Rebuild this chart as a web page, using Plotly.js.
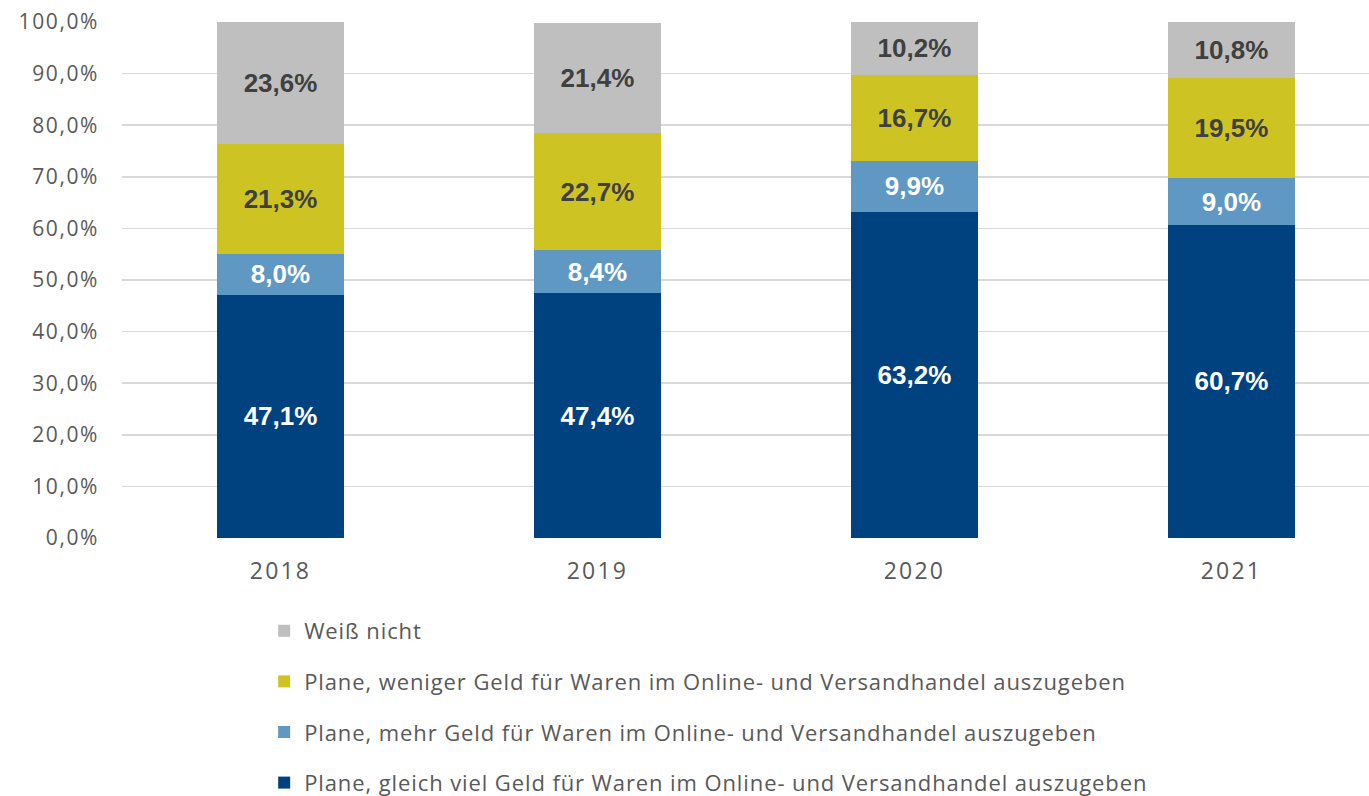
<!DOCTYPE html>
<html>
<head>
<meta charset="utf-8">
<script src="https://cdn.plot.ly/plotly-3.0.1.min.js"></script>
<style>
html,body{margin:0;padding:0;background:#fff;}
#chart{width:1369px;height:796px;}
#chart .legendtext{letter-spacing:0.9px;}
#chart .legend .scrollbox{clip-path:none !important;}
#chart .ytick text{letter-spacing:1.6px;}
#chart .xtick text{letter-spacing:2.2px;}
</style>
</head>
<body>
<div id="chart"></div>
<script>
const years = ['2018', '2019', '2020', '2021'];
const gleich = [47.1, 47.4, 63.2, 60.7];
const mehr = [8.0, 8.4, 9.9, 9.0];
const weniger = [21.3, 22.7, 16.7, 19.5];
const weissNicht = [23.6, 21.4, 10.2, 10.8];
const seriesNames = [
  'Plane, gleich viel Geld für Waren im Online- und Versandhandel auszugeben',
  'Plane, mehr Geld für Waren im Online- und Versandhandel auszugeben',
  'Plane, weniger Geld für Waren im Online- und Versandhandel auszugeben',
  'Weiß nicht'
];
const yTicks = [0, 10, 20, 30, 40, 50, 60, 70, 80, 90, 100];

const fmt = v => v.toFixed(1).replace('.', ',') + '%';
const colors = ['#00417F', '#5F98C2', '#CDC424', '#BFBFBF'];
const textColors = ['#FFFFFF', '#FFFFFF', '#404040', '#404040'];
const allSeries = [gleich, mehr, weniger, weissNicht];

const traces = allSeries.map((vals, i) => ({
  type: 'bar',
  x: years,
  y: vals,
  name: seriesNames[i],
  legendgroup: 'g' + i,
  legendrank: 4 - i,
  marker: {color: colors[i], line: {width: 0}},
  text: vals.map(fmt),
  textposition: 'inside',
  insidetextanchor: 'middle',
  textangle: 0,
  constraintext: 'none',
  textfont: {family: 'Liberation Sans, Arial, sans-serif', size: 26, color: textColors[i], weight: 'bold'},
  hoverinfo: 'skip'
}));

const layout = {
  width: 1369,
  height: 796,
  margin: {l: 122, r: 0, t: 22, b: 258},
  barmode: 'stack',
  bargap: 0.6,
  separators: ',.',
  paper_bgcolor: '#FFFFFF',
  plot_bgcolor: '#FFFFFF',
  font: {family: 'Open Sans, sans-serif', color: '#595959', size: 20},
  xaxis: {
    type: 'category',
    range: [-0.5, 3.434],
    showgrid: false,
    zeroline: false,
    showline: false,
    ticks: '',
    tickfont: {size: 23, color: '#595959'},
    ticklabelstandoff: 17,
    automargin: false
  },
  yaxis: {
    range: [0, 100],
    tickvals: yTicks,
    ticktext: yTicks.map(v => v.toFixed(1).replace('.', ',') + '%'),
    showgrid: true,
    gridcolor: '#D9D9D9',
    gridwidth: 1.5,
    zeroline: false,
    showline: false,
    ticks: '',
    tickfont: {size: 21, color: '#595959'},
    ticklabelstandoff: 22,
    automargin: false
  },
  showlegend: true,
  legend: {
    orientation: 'v',
    traceorder: 'grouped',
    tracegroupgap: 19,
    x: 0.114,
    xanchor: 'left',
    yref: 'container',
    y: 0,
    yanchor: 'bottom',
    font: {size: 22, color: '#595959'},
    bgcolor: 'rgba(0,0,0,0)'
  }
};

Plotly.newPlot('chart', traces, layout, {displayModeBar: false, staticPlot: true}).then(gd => {
  // nudge legend down slightly to match the reference's spacing
  const lg = gd.querySelector('.legend');
  if (lg) {
    const t = lg.getAttribute('transform') || '';
    const m = t.match(/translate\(\s*([-\d.]+)[ ,]+([-\d.]+)\s*\)/);
    if (m) lg.setAttribute('transform', 'translate(' + m[1] + ',' + (parseFloat(m[2]) + 8) + ')');
  }
});
</script>
</body>
</html>
